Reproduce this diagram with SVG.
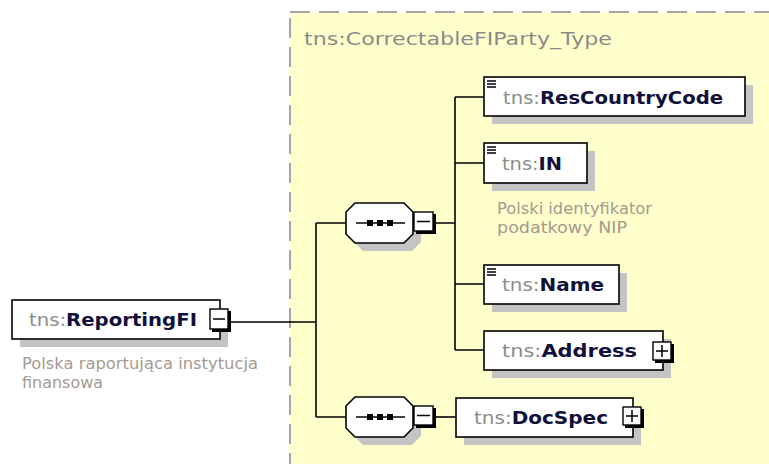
<svg xmlns="http://www.w3.org/2000/svg" width="769" height="464" viewBox="0 0 769 464">
<defs>
<style>
.bx{fill:#fff;stroke:#000;stroke-width:1.6}
.sh{fill:#c4c4c4}
.nm{font-family:"DejaVu Sans",Verdana,sans-serif;font-size:18px}
.pf{fill:#8c8c8c;font-weight:normal}
.ln{fill:#10103a;font-weight:bold}
.ds{font-family:"DejaVu Sans",Verdana,sans-serif;font-size:15px;fill:#a59a90}
.ttl{font-family:"DejaVu Sans",Verdana,sans-serif;font-size:18px;fill:#8a8a8a}
.wire{fill:none;stroke:#000;stroke-width:1.6}
.btn{fill:#fff;stroke:#000;stroke-width:1.4}
.sym{stroke:#000;stroke-width:1.5;fill:none}
.ic{stroke:#000;stroke-width:1.3}
</style>
<g id="seqShape">
<path class="sh" d="M363,211 L412,211 L421,220 L421,242 L412,251 L363,251 L354,242 L354,220 Z"/>
<path d="M355,203 L404,203 L413,212 L413,234 L404,243 L355,243 L346,234 L346,212 Z" fill="#fff" stroke="#000" stroke-width="1.6"/>
<line x1="356" y1="223" x2="405" y2="223" stroke="#000" stroke-width="1.6"/>
<rect x="367" y="220" width="6" height="6" fill="#000"/>
<rect x="377" y="220" width="6" height="6" fill="#000"/>
<rect x="387" y="220" width="6" height="6" fill="#000"/>
<rect x="416" y="214" width="20" height="20" fill="#000"/>
<rect class="btn" x="414" y="212" width="19" height="19"/>
<line class="sym" x1="417" y1="221.5" x2="430" y2="221.5"/>
</g>
</defs>

<g id="complexType">
<rect x="290" y="12" width="500" height="470" fill="#ffffcc" stroke="#a6a6a6" stroke-width="2" stroke-dasharray="20 9"/>
<text class="ttl" x="304" y="45" textLength="308" lengthAdjust="spacingAndGlyphs">tns:CorrectableFIParty_Type</text>
</g>

<g id="connectors">
<path class="wire" d="M229,322 H316 M316,223 V417 M316,223 H346 M316,417 H346"/>
<path class="wire" d="M436,223 H455 M455,97 V350 M455,97 H484 M455,163 H484 M455,284 H484 M455,350 H484"/>
<path class="wire" d="M436,417 H456"/>
</g>

<g id="ReportingFI">
<rect class="sh" x="20" y="308" width="208" height="39"/>
<rect class="bx" x="12" y="300" width="208" height="39"/>
<text class="nm" x="29" y="326" textLength="168" lengthAdjust="spacingAndGlyphs"><tspan class="pf">tns:</tspan><tspan class="ln">ReportingFI</tspan></text>
<rect x="212" y="311" width="19" height="21" fill="#000"/>
<rect class="btn" x="210" y="309" width="18" height="20"/>
<line class="sym" x1="213" y1="319" x2="225" y2="319"/>
<text class="ds" x="22" y="369" textLength="236" lengthAdjust="spacingAndGlyphs">Polska raportująca instytucja</text>
<text class="ds" x="22" y="388" textLength="81" lengthAdjust="spacingAndGlyphs">finansowa</text>
</g>

<g id="sequence1">
<use href="#seqShape"/>
</g>

<g id="sequence2">
<use href="#seqShape" transform="translate(0,194)"/>
</g>

<g id="ResCountryCode">
<rect class="sh" x="492" y="85" width="261" height="39"/>
<rect class="bx" x="484" y="77" width="261" height="39"/>
<path class="ic" d="M487,81 H496 M487,84 H496 M487,87 H496"/>
<text class="nm" x="503" y="104" textLength="220" lengthAdjust="spacingAndGlyphs"><tspan class="pf">tns:</tspan><tspan class="ln">ResCountryCode</tspan></text>
</g>

<g id="IN">
<rect class="sh" x="492" y="151" width="103" height="40"/>
<rect class="bx" x="484" y="143" width="103" height="40"/>
<path class="ic" d="M487,147 H496 M487,150 H496 M487,153 H496"/>
<text class="nm" x="502" y="170" textLength="60" lengthAdjust="spacingAndGlyphs"><tspan class="pf">tns:</tspan><tspan class="ln">IN</tspan></text>
<text class="ds" x="497" y="214" textLength="155" lengthAdjust="spacingAndGlyphs">Polski identyfikator</text>
<text class="ds" x="497" y="233" textLength="130" lengthAdjust="spacingAndGlyphs">podatkowy NIP</text>
</g>

<g id="Name">
<rect class="sh" x="492" y="273" width="135" height="39"/>
<rect class="bx" x="484" y="265" width="135" height="39"/>
<path class="ic" d="M487,269 H496 M487,272 H496 M487,275 H496"/>
<text class="nm" x="502" y="291" textLength="102" lengthAdjust="spacingAndGlyphs"><tspan class="pf">tns:</tspan><tspan class="ln">Name</tspan></text>
</g>

<g id="Address">
<rect class="sh" x="492" y="339" width="179" height="39"/>
<rect class="bx" x="484" y="331" width="179" height="39"/>
<text class="nm" x="502" y="357" textLength="135" lengthAdjust="spacingAndGlyphs"><tspan class="pf">tns:</tspan><tspan class="ln">Address</tspan></text>
<rect x="655" y="344" width="19" height="19" fill="#000"/>
<rect class="btn" x="653" y="342" width="18" height="18"/>
<path class="sym" d="M656,351 H668 M662,345 V357"/>
</g>

<g id="DocSpec">
<rect class="sh" x="464" y="406" width="177" height="39"/>
<rect class="bx" x="456" y="398" width="177" height="39"/>
<text class="nm" x="474" y="424" textLength="134" lengthAdjust="spacingAndGlyphs"><tspan class="pf">tns:</tspan><tspan class="ln">DocSpec</tspan></text>
<rect x="625" y="409" width="19" height="19" fill="#000"/>
<rect class="btn" x="623" y="407" width="18" height="18"/>
<path class="sym" d="M626,416 H638 M632,410 V422"/>
</g>
</svg>
